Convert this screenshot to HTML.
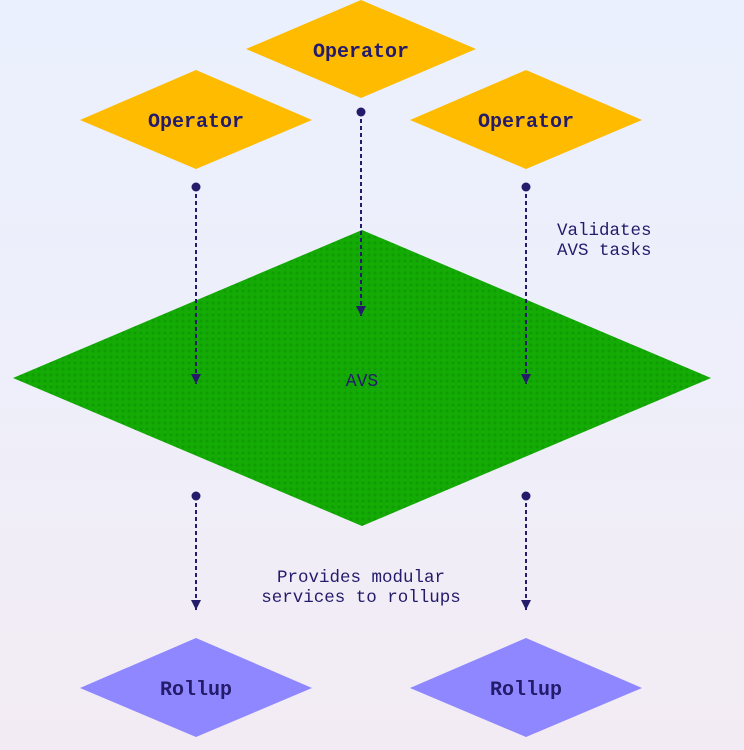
<!DOCTYPE html>
<html><head><meta charset="utf-8"><style>
html,body{margin:0;padding:0;width:744px;height:750px;overflow:hidden}
body{background:linear-gradient(180deg,#eaf0fd 0%,#eeeffa 50%,#f3ebf3 100%)}
text{font-family:"Liberation Mono",monospace}
</style></head><body>
<svg width="744" height="750" viewBox="0 0 744 750">
<defs>
<pattern id="dots" width="6" height="6" patternUnits="userSpaceOnUse">
<rect width="6" height="6" fill="#14ab05"/>
<circle cx="3" cy="3" r="1.6" fill="#109c03"/>
</pattern>
<marker id="ar" viewBox="0 0 10 10" refX="10" refY="5" markerWidth="10" markerHeight="10" orient="auto" markerUnits="userSpaceOnUse">
<path d="M0,0 L10,5 L0,10 Z" fill="#241b6b"/>
</marker>
</defs>
<polygon points="362,230 711,378 362,526 13,378" fill="url(#dots)"/>
<polygon points="361,0 476,49 361,98 246,49" fill="#ffbb00"/>
<polygon points="196,70 312,120 196,169 80,120" fill="#ffbb00"/>
<polygon points="526,70 642,120 526,169 410,120" fill="#ffbb00"/>
<polygon points="196,638 312,688 196,737 80,688" fill="#8e87ff"/>
<polygon points="526,638 642,688 526,737 410,688" fill="#8e87ff"/>
<g font-size="20" font-weight="bold" fill="#241b6b" text-anchor="middle">
<text x="361" y="57">Operator</text>
<text x="196" y="127">Operator</text>
<text x="526" y="127">Operator</text>
<text x="196" y="695">Rollup</text>
<text x="526" y="695">Rollup</text>
</g>
<text x="362" y="386" font-size="18" fill="#241b6b" text-anchor="middle">AVS</text>
<g stroke="#241b6b" stroke-width="2" stroke-dasharray="4,3" fill="none">
<line x1="361" y1="112" x2="361" y2="316" marker-end="url(#ar)"/>
<line x1="196" y1="187" x2="196" y2="384" marker-end="url(#ar)"/>
<line x1="526" y1="187" x2="526" y2="384" marker-end="url(#ar)"/>
<line x1="196" y1="496" x2="196" y2="610" marker-end="url(#ar)"/>
<line x1="526" y1="496" x2="526" y2="610" marker-end="url(#ar)"/>
</g>
<g fill="#241b6b">
<circle cx="361" cy="112" r="4.5"/><circle cx="196" cy="187" r="4.5"/><circle cx="526" cy="187" r="4.5"/>
<circle cx="196" cy="496" r="4.5"/><circle cx="526" cy="496" r="4.5"/>
</g>
<g font-size="17.5" fill="#241b6b">
<text x="557" y="235">Validates</text>
<text x="557" y="255">AVS tasks</text>
<text x="361" y="582" text-anchor="middle">Provides modular</text>
<text x="361" y="602" text-anchor="middle">services to rollups</text>
</g>
</svg>
</body></html>
